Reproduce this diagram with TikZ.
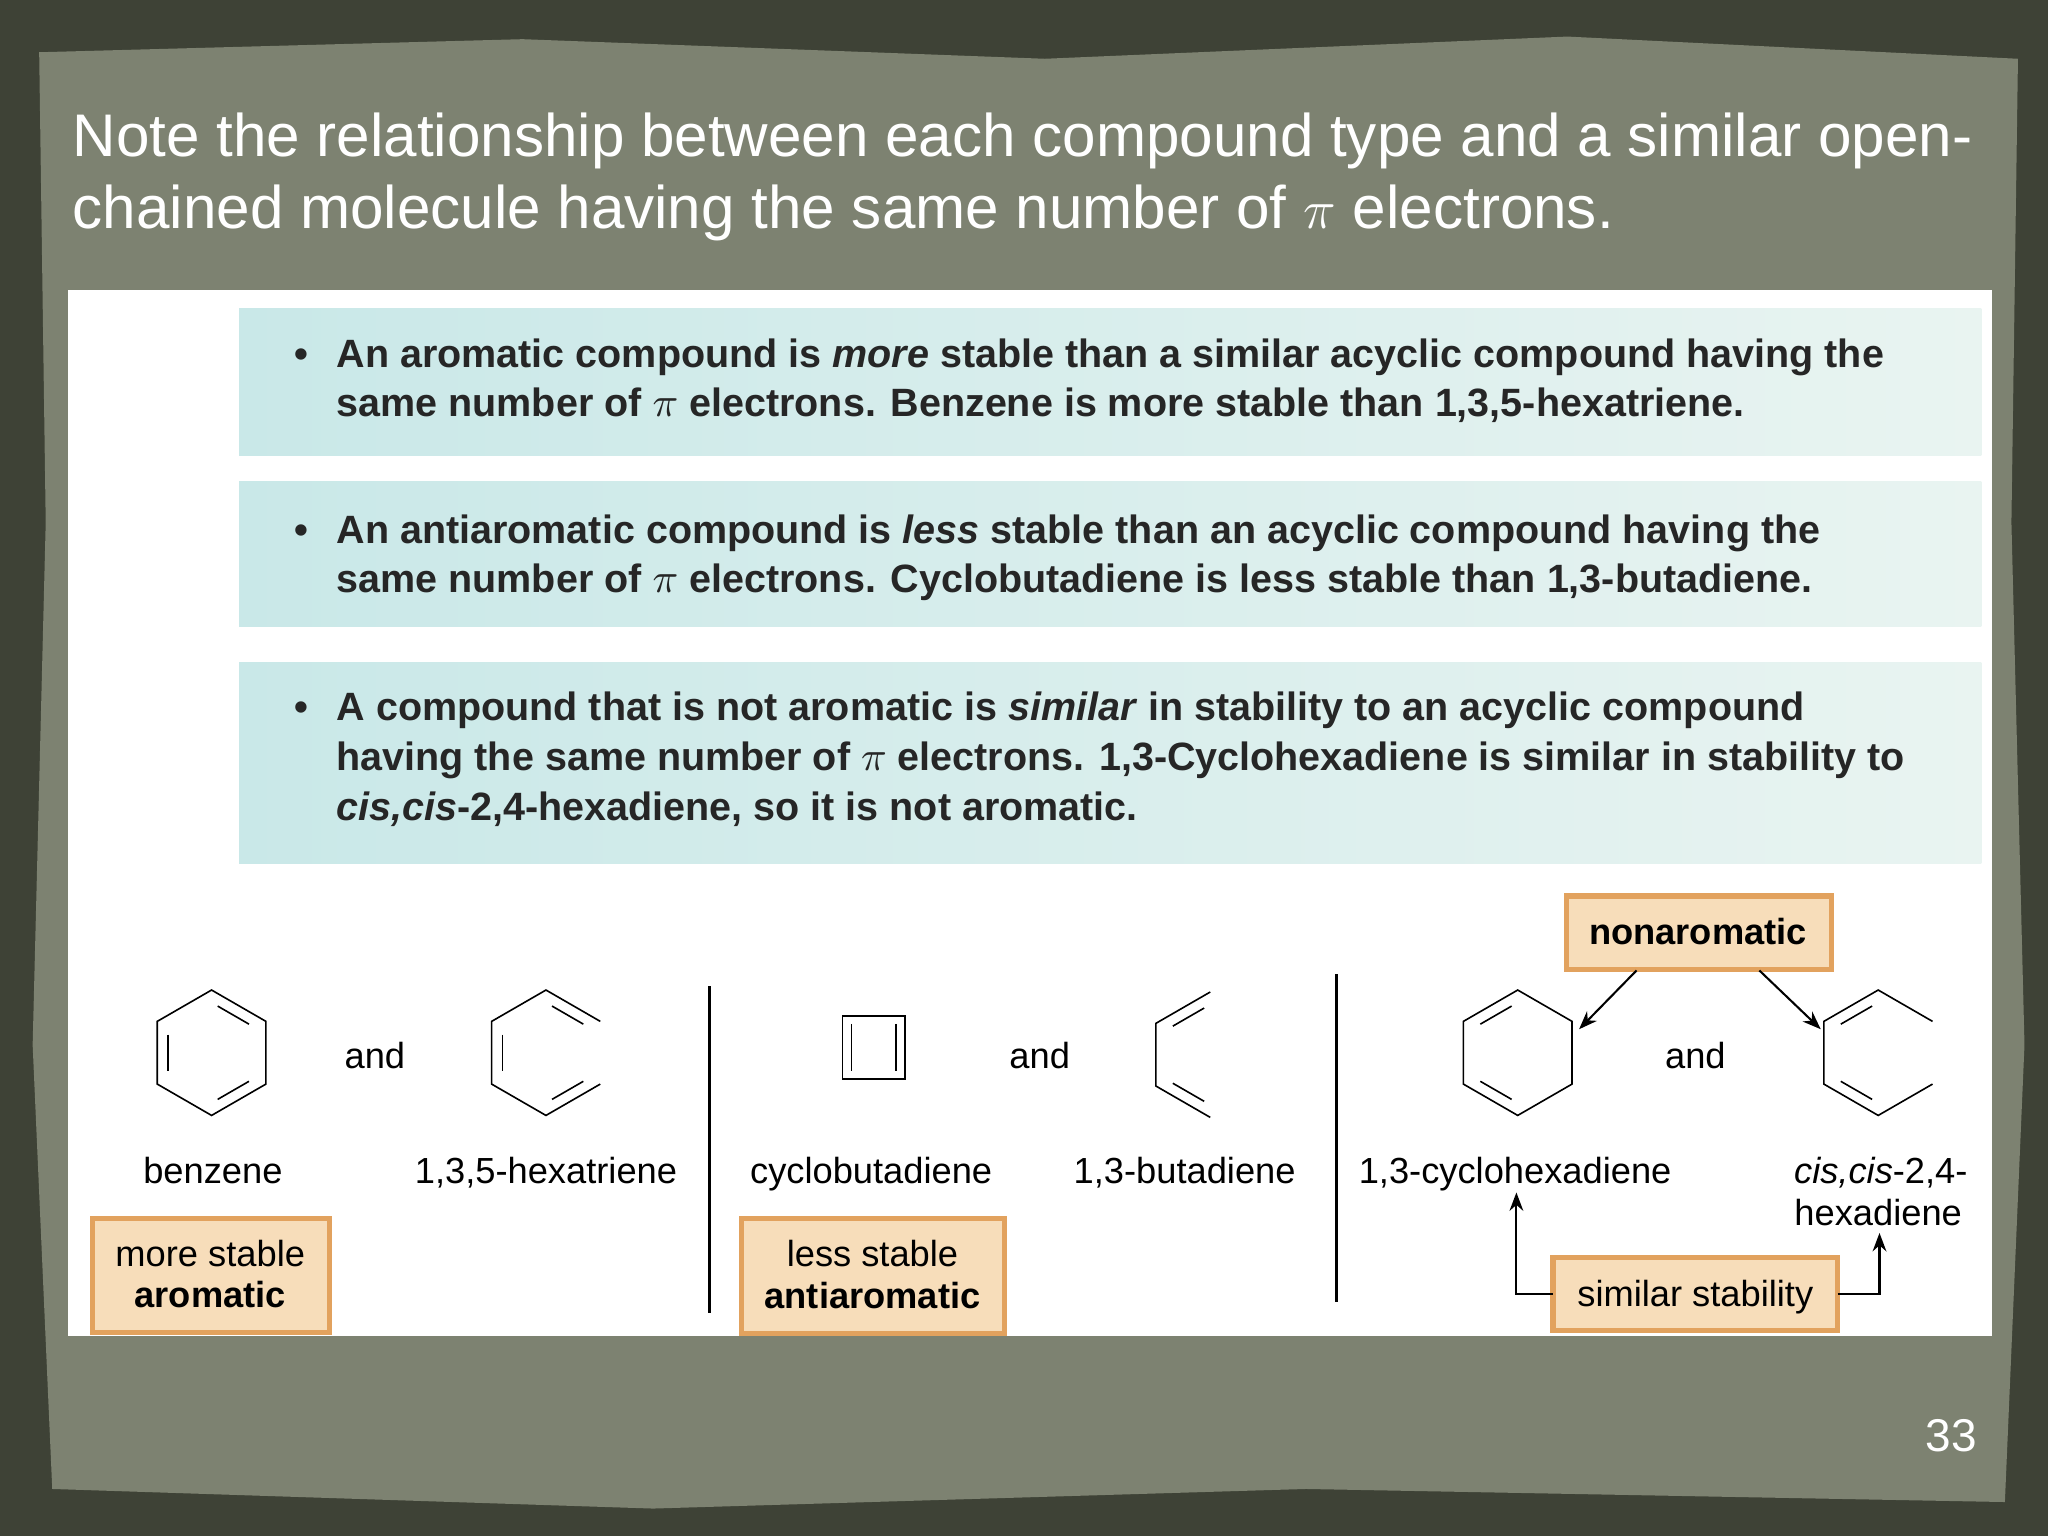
\documentclass[tikz,border=0pt]{standalone}
\usepackage{fontspec}
\setmainfont{Liberation Sans}
\usetikzlibrary{calc,arrows.meta}
\definecolor{outerbg}{HTML}{3E4236}
\definecolor{paper}{HTML}{7D8271}
\definecolor{boxL}{HTML}{C9E8E8}
\definecolor{boxR}{HTML}{E9F4F1}
\definecolor{orfill}{HTML}{F7DDBA}
\definecolor{ordraw}{HTML}{E2A25E}
\tikzset{
  bx/.style={shading=axis,left color=boxL,right color=boxR,draw=none},
  obox/.style={fill=orfill,draw=ordraw,line width=1.1pt},
  btxt/.style={anchor=base west,inner sep=0,text=black!85,font=\fontsize{8.6}{10}\selectfont\bfseries},
  lbl/.style={anchor=base,inner sep=0,font=\fontsize{7.9}{9}\selectfont},
  bond/.style={line width=0.35pt,line join=miter},
  arr/.style={line width=0.45pt,-{Stealth[length=4pt,width=3pt]}},
}
\newcommand{\dbl}[3]{\draw[bond] ($(#1)!0.8!($(#2)!0.14!(#3)$)$) -- ($(#1)!0.8!($(#3)!0.14!(#2)$)$);}
\newcommand{\hexpts}[3]{% name, cx, cy
  \coordinate (#1c) at (#2,#3);
  \coordinate (#1t) at (#2,#3-48);
  \coordinate (#1ur) at (#2+41.6,#3-24);
  \coordinate (#1lr) at (#2+41.6,#3+24);
  \coordinate (#1b) at (#2,#3+48);
  \coordinate (#1ll) at (#2-41.6,#3+24);
  \coordinate (#1ul) at (#2-41.6,#3-24);}
\begin{document}
\begin{tikzpicture}[x=0.01cm,y=-0.01cm]
\useasboundingbox (0,0) rectangle (1568,1176);
\fill[outerbg] (0,0) rectangle (1568,1176);
\fill[paper] (30,40) -- (400,30) -- (800,45) -- (1200,28) -- (1545,45) -- (1540,400) -- (1550,800) -- (1535,1150) -- (1000,1140) -- (500,1155) -- (40,1140) -- (25,800) -- (35,400) -- cycle;
% title
\node[anchor=base west,inner sep=0,text=white,font=\fontsize{13.1}{15}\selectfont] (t1) at (55,120) {Note the relationship between each compound type and a similar open-};
\node[anchor=base west,inner sep=0,text=white,font=\fontsize{13.1}{15}\selectfont] (t2) at (55,175) {chained molecule having the same number of $\pi$ electrons.};
% white panel
\fill[white] (52,222) rectangle (1525,1023);
\fill[bx] (183,236) rectangle (1517,349);
\fill[bx] (183,369) rectangle (1517,480);
\fill[bx] (183,507) rectangle (1517,661);
\foreach \y in {281,416,552} \node[btxt] at (225,\y) {•};
\node[btxt] (a1) at (257,281) {An aromatic compound is \textit{more} stable than a similar acyclic compound having the};
\node[btxt] (a2) at (257,319) {same number of $\pi$ electrons. Benzene is more stable than 1,3,5-hexatriene.};
\node[btxt] (b1) at (257,416) {An antiaromatic compound is \textit{less} stable than an acyclic compound having the};
\node[btxt] (b2) at (257,454) {same number of $\pi$ electrons. Cyclobutadiene is less stable than 1,3-butadiene.};
\node[btxt] (c1) at (257,552) {A compound that is not aromatic is \textit{similar} in stability to an acyclic compound};
\node[btxt] (c2) at (257,590) {having the same number of $\pi$ electrons. 1,3-Cyclohexadiene is similar in stability to};
\node[btxt] (c3) at (257,628) {\textit{cis,cis}-2,4-hexadiene, so it is not aromatic.};
% separators
\draw[line width=0.6pt] (543,755) -- (543,1005);
\draw[line width=0.6pt] (1023,746) -- (1023,997);
% benzene
\hexpts{B}{162}{806}
\draw[bond] (Bt)--(Bur)--(Blr)--(Bb)--(Bll)--(Bul)--cycle;
\dbl{Bc}{Bul}{Bll}\dbl{Bc}{Bt}{Bur}\dbl{Bc}{Blr}{Bb}
% hexatriene
\hexpts{H}{418}{806}
\draw[bond] (Hur)--(Ht)--(Hul)--(Hll)--(Hb)--(Hlr);
\dbl{Hc}{Hul}{Hll}\dbl{Hc}{Ht}{Hur}\dbl{Hc}{Hlr}{Hb}
% cyclobutadiene
\draw[bond] (645,778) rectangle (693,826);
\draw[bond] (652,784) -- (652,820);
\draw[bond] (686,784) -- (686,820);
% butadiene
\hexpts{D}{926.6}{807.5}
\draw[bond] (Dt)--(Dul)--(Dll)--(Db);
\dbl{Dc}{Dt}{Dul}\dbl{Dc}{Dll}{Db}
% cyclohexadiene
\hexpts{C}{1162}{806}
\draw[bond] (Ct)--(Cur)--(Clr)--(Cb)--(Cll)--(Cul)--cycle;
\dbl{Cc}{Cul}{Ct}\dbl{Cc}{Cll}{Cb}
% cis,cis-hexadiene
\hexpts{X}{1438}{806}
\draw[bond] (Xur)--(Xt)--(Xul)--(Xll)--(Xb)--(Xlr);
\dbl{Xc}{Xul}{Xt}\dbl{Xc}{Xll}{Xb}
% labels
\node[lbl] at (287,818) {and};
\node[lbl] at (796,818) {and};
\node[lbl] at (1298,818) {and};
\node[lbl] (lb) at (163,906) {benzene};
\node[lbl] at (418,906) {1,3,5-hexatriene};
\node[lbl] at (667,906) {cyclobutadiene};
\node[lbl] at (907,906) {1,3-butadiene};
\node[lbl] (lc) at (1160,906) {1,3-cyclohexadiene};
\node[lbl] (lx1) at (1440,906) {\textit{cis,cis}-2,4-};
\node[lbl] (lx2) at (1438,938) {hexadiene};
% boxes
\draw[obox] (71,933) rectangle (252,1020);
\node[lbl] at (161,970) {more stable};
\node[lbl] at (161,1001) {\bfseries aromatic};
\draw[obox] (568,933) rectangle (769,1021);
\node[lbl] at (668,970) {less stable};
\node[lbl] at (668,1002) {\bfseries antiaromatic};
\draw[obox] (1199,686) rectangle (1402,742);
\node[lbl] (na) at (1300,723) {\bfseries nonaromatic};
\draw[obox] (1189,963) rectangle (1407,1019);
\node[lbl] (ss) at (1298,1000) {similar stability};
% arrows
\coordinate (n1) at (1253,743); \coordinate (n2) at (1347,743);
\coordinate (e1) at (1209,788); \coordinate (e2) at (1394,788);
\draw[arr] (n1) -- (e1);
\draw[arr] (n2) -- (e2);
\coordinate (s1) at (1189,991); \coordinate (s2) at (1407,991);
\coordinate (u1) at (1161,913); \coordinate (u2) at (1439,944);
\draw[arr] (s1) -| (u1);
\draw[arr] (s2) -| (u2);
\node[anchor=base,inner sep=0,text=white,font=\fontsize{10}{12}\selectfont] at (1494,1111) {33};
\end{tikzpicture}
\end{document}
